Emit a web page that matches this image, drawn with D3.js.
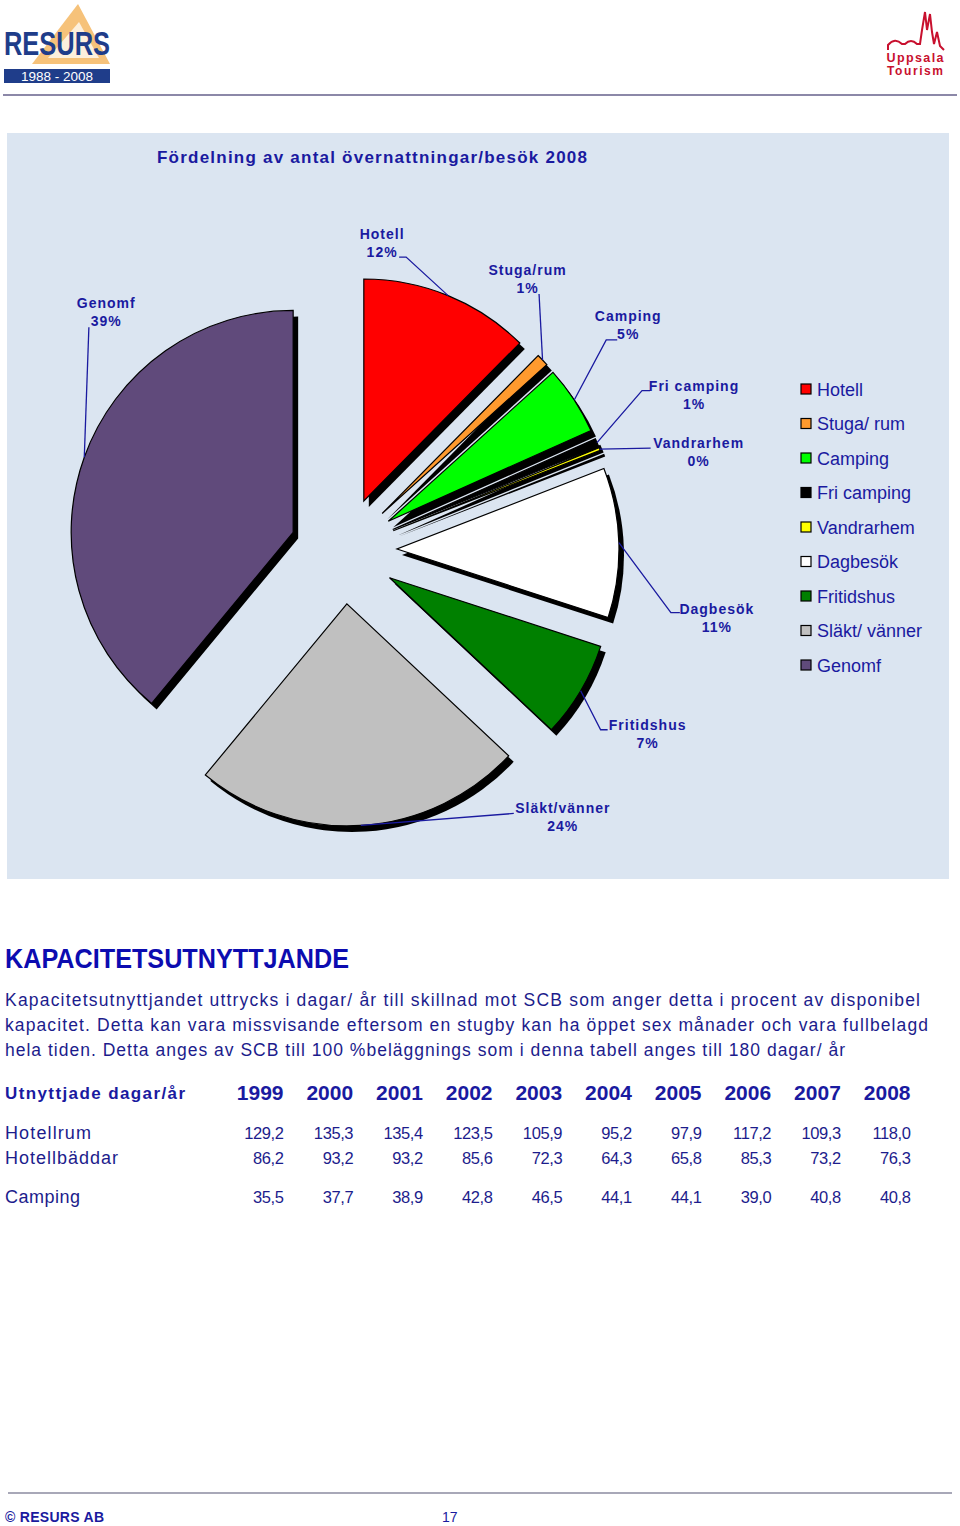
<!DOCTYPE html>
<html><head><meta charset="utf-8">
<script src="https://cdn.jsdelivr.net/npm/d3@7"></script>
<style>body{margin:0;background:#fff} svg{display:block} text{font-family:"Liberation Sans",Arial,sans-serif}</style>
</head><body><svg id="c" width="960" height="1526"></svg>
<script>
// ---------- DATA ----------
const categories = ["Hotell","Stuga/rum","Camping","Fri camping","Vandrarhem","Dagbesök","Fritidshus","Släkt/vänner","Genomf"];
const shares = [12.4, 0.9, 5.0, 0.6, 0.2, 10.9, 7.0, 24.0, 39.0];
const legendLabels = ["Hotell","Stuga/ rum","Camping","Fri camping","Vandrarhem","Dagbesök","Fritidshus","Släkt/ vänner","Genomf"];
const years = ["1999","2000","2001","2002","2003","2004","2005","2006","2007","2008"];
const rowLabels = ["Hotellrum","Hotellbäddar","Camping"];
const hotellrum = [129.2,135.3,135.4,123.5,105.9,95.2,97.9,117.2,109.3,118.0];
const hotellbaddar = [86.2,93.2,93.2,85.6,72.3,64.3,65.8,85.3,73.2,76.3];
const campingDays = [35.5,37.7,38.9,42.8,46.5,44.1,44.1,39.0,40.8,40.8];
const chartTitle = "Fördelning av antal övernattningar/besök 2008";
const heading = "KAPACITETSUTNYTTJANDE";
const paragraph = [
  "Kapacitetsutnyttjandet uttrycks i dagar/ år till skillnad mot SCB som anger detta i procent av disponibel",
  "kapacitet. Detta kan vara missvisande eftersom en stugby kan ha öppet sex månader och vara fullbelagd",
  "hela tiden. Detta anges av SCB till 100 %beläggnings som i denna tabell anges till 180 dagar/ år"
];

// ---------- STYLE ----------
const color = d3.scaleOrdinal().domain(categories)
  .range(["#ff0000","#ff9a2e","#00ff00","#000000","#ffff00","#ffffff","#008000","#c0c0c0","#604a7b"]);
const NAVY = "#1a1aa0";
const svg = d3.select("#c");
svg.append("rect").attr("width",960).attr("height",1526).attr("fill","#fff");

// ---------- HEADER ----------
const logo = svg.append("g");
logo.append("path").attr("d","M78,4 L110,64 L32,64 Z").attr("fill","#f6c27a");
logo.append("path").attr("d","M79,22 L99,58 L48,58 Z").attr("fill","#fdf0dc");
logo.append("text").attr("x",4).attr("y",55).attr("font-size",33).attr("font-weight","bold")
  .attr("fill","#1f3d8a").attr("textLength",106).attr("lengthAdjust","spacingAndGlyphs").text("RESURS");
logo.append("rect").attr("x",4).attr("y",69).attr("width",106).attr("height",14).attr("fill","#1f3d8a");
logo.append("text").attr("x",57).attr("y",81).attr("text-anchor","middle").attr("font-size",13.5)
  .attr("fill","#fff").text("1988 - 2008");

const ut = svg.append("g");
ut.append("path").attr("d","M888,50 L888,45 Q895,37 902,44 L905,44 Q911,38 917,44 L920,44 L922,30 L925,12 L927,30 L930,14 L932,32 L934,44 L937,32 L940,46 L944,50")
  .attr("fill","none").attr("stroke","#c8102e").attr("stroke-width",2);
ut.append("text").attr("x",915).attr("y",62).attr("text-anchor","middle").attr("font-size",12.5).attr("font-weight","bold")
  .attr("fill","#c8102e").attr("textLength",57).text("Uppsala");
ut.append("text").attr("x",915).attr("y",75).attr("text-anchor","middle").attr("font-size",12).attr("font-weight","bold")
  .attr("fill","#c8102e").attr("textLength",56).text("Tourism");

svg.append("line").attr("x1",3).attr("x2",957).attr("y1",95).attr("y2",95)
  .attr("stroke","#8c88a8").attr("stroke-width",2);

// ---------- CHART PANEL ----------
svg.append("rect").attr("x",7).attr("y",133).attr("width",942).attr("height",746).attr("fill","#dbe5f1");
svg.append("text").attr("x",157).attr("y",163).attr("font-size",17).attr("font-weight","bold")
  .attr("fill",NAVY).attr("textLength",430).text(chartTitle);

const C = {x:343.5, y:550.5}, R = 222, D = 53.5;
const pieData = d3.pie().sort(null).value(d=>d)(shares);
const arc = d3.arc().innerRadius(0).outerRadius(R);
pieData.forEach(p => {
  p.mid = (p.startAngle + p.endAngle)/2;
  p.ox = C.x + D*Math.sin(p.mid);
  p.oy = C.y - D*Math.cos(p.mid);
  p.ax = p.ox + R*Math.sin(p.mid);
  p.ay = p.oy - R*Math.cos(p.mid);
  p.name = categories[p.index];
});
const pieG = svg.append("g");
pieG.selectAll("path.sh").data(pieData).join("path").attr("class","sh")
  .attr("transform",p=>`translate(${p.ox+5},${p.oy+6})`).attr("d",arc).attr("fill","#000");
pieG.selectAll("path.sl").data(pieData).join("path").attr("class","sl")
  .attr("transform",p=>`translate(${p.ox},${p.oy})`).attr("d",arc)
  .attr("fill",p=>color(p.name)).attr("stroke","#000").attr("stroke-width",1.2);

// label placement, offsets relative to the slice's arc midpoint
const labelLayout = {
  "Hotell":      {t:[-66,-61.6], pts:[[-42,-38.6],[-49,-38.6]]},
  "Stuga/rum":   {t:[-15,-90], pts:[[-3.5,-66]]},
  "Camping":     {t:[54,-84],  pts:[[32,-60],[43,-60]]},
  "Fri camping": {t:[97,-57],  pts:[[45,-52],[53,-52]]},
  "Vandrarhem":  {t:[99,-6],   pts:[[51,-1]]},
  "Dagbesök":    {t:[98,66],   pts:[[52,70],[61,70]]},
  "Fritidshus":  {t:[67,34],   pts:[[20,39],[27,39]]},
  "Släkt/vänner":{t:[202,-17], pts:[[153,-12]]},
  "Genomf":      {t:[22,-154], pts:[[4.6,-130]]}
};
const lblG = svg.append("g");
pieData.forEach(p => {
  const L = labelLayout[p.name];
  const line = d3.line();
  const pts = [[p.ax,p.ay]].concat(L.pts.map(q=>[p.ax+q[0], p.ay+q[1]]));
  lblG.append("path").attr("d",line(pts)).attr("fill","none").attr("stroke",NAVY).attr("stroke-width",1.3);
  const t = lblG.append("text").attr("text-anchor","middle").attr("font-size",14).attr("font-weight","bold")
    .attr("letter-spacing",1).attr("fill",NAVY);
  t.append("tspan").attr("x",p.ax+L.t[0]).attr("y",p.ay+L.t[1]+5).text(p.name);
  t.append("tspan").attr("x",p.ax+L.t[0]).attr("y",p.ay+L.t[1]+23).text(Math.round(p.data)+"%");
});

// legend
const legY = d3.scalePoint().domain(legendLabels).range([389, 665]);
const leg = svg.append("g");
legendLabels.forEach((l,i)=>{
  leg.append("rect").attr("x",801).attr("y",legY(l)-5).attr("width",10).attr("height",10)
    .attr("fill",color(categories[i])).attr("stroke","#000").attr("stroke-width",1.2);
  leg.append("text").attr("x",817).attr("y",legY(l)+6.5).attr("font-size",18).attr("fill",NAVY).text(l);
});

// ---------- TEXT SECTION ----------
svg.append("text").attr("x",5).attr("y",968).attr("font-size",27).attr("font-weight","bold")
  .attr("fill","#0c0cb0").attr("textLength",344).attr("lengthAdjust","spacingAndGlyphs").text(heading);
const pLens = [915, 923, 840];
paragraph.forEach((s,i)=>{
  svg.append("text").attr("x",5).attr("y",1006+25*i).attr("font-size",17.5).attr("fill","#1c1c8c")
    .attr("textLength",pLens[i]).text(s);
});

// ---------- TABLE ----------
const xT = d3.scalePoint().domain(years).range([283.5, 910.5]);
const fmt = d3.formatLocale({decimal:",",thousands:" ",grouping:[3],currency:["",""]}).format(".1f");
svg.append("text").attr("x",5).attr("y",1099).attr("font-size",17).attr("font-weight","bold")
  .attr("fill",NAVY).attr("textLength",180).text("Utnyttjade dagar/år");
years.forEach(y=>{
  svg.append("text").attr("x",xT(y)).attr("y",1100).attr("text-anchor","end").attr("font-size",21)
    .attr("font-weight","bold").attr("fill",NAVY).text(y);
});
const rows = [[hotellrum,1139,86],[hotellbaddar,1164,113],[campingDays,1203,75]];
rows.forEach((r,i)=>{
  svg.append("text").attr("x",5).attr("y",r[1]).attr("font-size",18).attr("fill","#1c1c8c")
    .attr("textLength",r[2]).text(rowLabels[i]);
  r[0].forEach((v,j)=>{
    svg.append("text").attr("x",xT(years[j])).attr("y",r[1]).attr("text-anchor","end")
      .attr("font-size",16.5).attr("letter-spacing",-0.4).attr("fill","#1c1c8c").text(fmt(v));
  });
});

// ---------- FOOTER ----------
svg.append("line").attr("x1",8).attr("x2",952).attr("y1",1493).attr("y2",1493)
  .attr("stroke","#a8a8b8").attr("stroke-width",2);
svg.append("text").attr("x",5).attr("y",1522).attr("font-size",14).attr("font-weight","bold")
  .attr("fill","#1a1a9e").attr("textLength",99).text("© RESURS  AB");
svg.append("text").attr("x",442).attr("y",1522).attr("font-size",14).attr("fill","#1a1a9e").text("17");
</script></body></html>
